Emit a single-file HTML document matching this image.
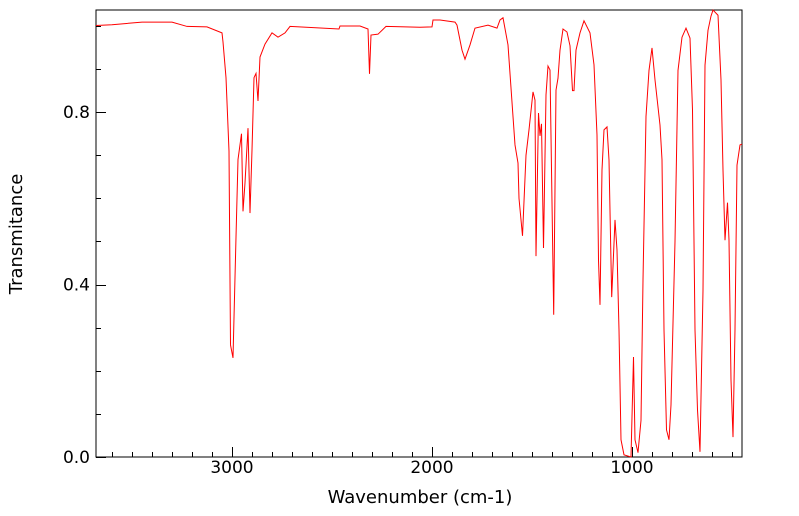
<!DOCTYPE html>
<html><head><meta charset="utf-8"><style>
body{margin:0;background:#fff}
svg{display:block;font-family:"DejaVu Sans","Liberation Sans",sans-serif}
</style></head><body>
<svg id="chart" width="799" height="516">
<rect x="96" y="10" width="646" height="447" fill="#fff" stroke="#000" stroke-width="1"/>
<g id="ticks"></g>
<path id="line" fill="none" stroke="#ff0000" stroke-width="1"/>
<text x="420" y="503" text-anchor="middle" font-size="18">Wavenumber (cm-1)</text>
<text transform="translate(22,234) rotate(-90)" text-anchor="middle" font-size="18">Transmitance</text>
</svg>
<script>
const wavenumbers=[3680,3600,3450,3300,3225,3125,3050,3045,3030,3015,3007.5,2995,2980,2970,2952.5,2945,2935,2920,2910,2900,2890,2880,2870,2860,2835,2800,2770,2735,2710,2465,2460,2360,2320,2312.5,2305,2270,2230,2060,2000,1995,1960,1885,1875,1850,1835,1810,1785,1720,1675,1660,1645,1620,1595,1585,1570,1565,1547.5,1530,1515,1495,1485,1480,1467.5,1460,1452.5,1442.5,1430,1420,1410,1391.5,1380,1370,1360,1345,1325,1310,1297.5,1290,1280,1260,1240,1210,1190,1175,1167.5,1160,1150,1140,1125,1115,1101.5,1085,1075,1065,1055,1040,1005,992.5,985,970,955,945,930,915,900,885,860,850,840,827.5,815,805,785,770,750,730,710,697.5,685,672.5,660,645,635,620,605,595,570,555,545,535,522.5,515,505,495,485,475,460,450];
const transmittance=[1.001,1.003,1.009,1.009,0.999,0.998,0.984,0.963,0.88,0.71,0.26,0.23,0.51,0.69,0.75,0.57,0.636,0.763,0.566,0.712,0.88,0.89,0.826,0.928,0.958,0.984,0.974,0.984,0.999,0.993,1.0,1.0,0.993,0.889,0.979,0.981,0.999,0.997,0.998,1.014,1.014,1.009,1.002,0.944,0.923,0.956,0.995,1.002,0.995,1.014,1.019,0.956,0.79,0.724,0.682,0.60,0.513,0.70,0.759,0.847,0.828,0.466,0.798,0.745,0.773,0.485,0.84,0.907,0.898,0.33,0.851,0.879,0.944,0.993,0.986,0.954,0.85,0.85,0.944,0.984,1.012,0.984,0.91,0.747,0.457,0.353,0.666,0.759,0.766,0.689,0.371,0.55,0.48,0.295,0.04,0.005,0.0,0.232,0.04,0.01,0.085,0.41,0.79,0.897,0.949,0.875,0.77,0.69,0.295,0.063,0.04,0.121,0.5,0.897,0.974,0.995,0.972,0.805,0.295,0.109,0.012,0.387,0.909,0.99,1.023,1.037,1.025,0.875,0.666,0.503,0.59,0.503,0.179,0.046,0.296,0.677,0.724,0.726];
const xTickLabels=[3000,2000,1000];
const yTickLabels=[0.0,0.4,0.8];
const xMinor=[3600,3500,3400,3300,3200,3100,3000,2900,2800,2700,2600,2500,2400,2300,2200,2100,2000,1900,1800,1700,1600,1500,1400,1300,1200,1100,1000,900,800,700,600,500];
const yMinor=[0.0,0.1,0.2,0.3,0.4,0.5,0.6,0.7,0.8,0.9,1.0];
const X0=96,X1=742,Y0=457,Y1=10;
const xMin=450,xMax=3680,yMin=0,yMax=1.0371;
function sx(w){return X0+(xMax-w)/(xMax-xMin)*(X1-X0);}
function sy(t){return Y0-(t-yMin)/(yMax-yMin)*(Y0-Y1);}
const NS="http://www.w3.org/2000/svg";
let d="";
for(let i=0;i<wavenumbers.length;i++){d+=(i?"L":"M")+sx(wavenumbers[i]).toFixed(2)+","+sy(transmittance[i]).toFixed(2);}
document.getElementById('line').setAttribute('d',d);
const g=document.getElementById('ticks');
function ln(x1,y1,x2,y2,name){const l=document.createElementNS(NS,'line');l.setAttribute('x1',x1);l.setAttribute('y1',y1);l.setAttribute('x2',x2);l.setAttribute('y2',y2);l.setAttribute('stroke','#000');


g.appendChild(l);}
function tx(x,y,s,anchor,name){const t=document.createElementNS(NS,'text');t.setAttribute('x',x);t.setAttribute('y',y);t.setAttribute('font-size','17');t.setAttribute('text-anchor',anchor);t.textContent=s;


g.appendChild(t);}
xMinor.forEach(w=>{const x=Math.round(sx(w))+0.5;const major=xTickLabels.indexOf(w)>=0;ln(x,Y0,x,Y0-(major?10:5),'x-tick');});
xTickLabels.forEach(w=>{tx(sx(w),473,String(w),'middle','x-tick-label');});
yMinor.forEach(v=>{const y=Math.round(sy(v))+0.5;ln(X0,y,X0+(yTickLabels.some(t=>Math.abs(t-v)<1e-6)?10:5),y,'y-tick');});
yTickLabels.forEach(v=>{tx(90,sy(v)+6,v.toFixed(1),'end','y-tick-label');});
</script>
</body></html>
